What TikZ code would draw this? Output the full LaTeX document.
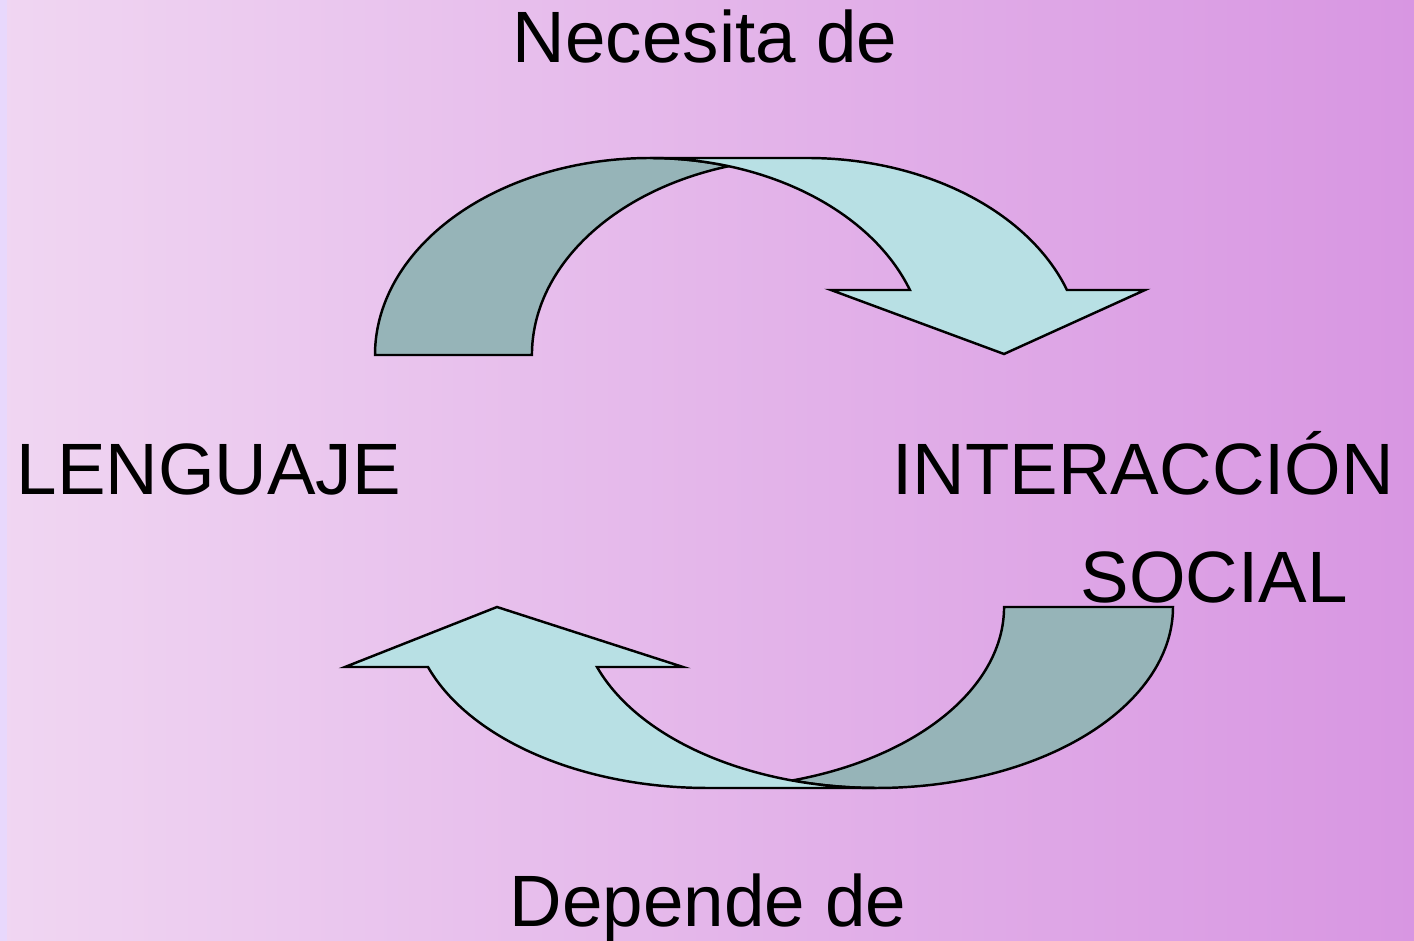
\documentclass[tikz,border=0pt]{standalone}
\usepackage{fontspec}
\setmainfont{Liberation Sans}
\usepackage{tikz}

\definecolor{bgleft}{RGB}{240,214,242}
\definecolor{bgright}{RGB}{216,150,226}
\definecolor{bgstrip}{RGB}{232,216,252}
\definecolor{arrowback}{RGB}{150,180,184}
\definecolor{arrowfront}{RGB}{184,224,228}

\begin{document}
\begin{tikzpicture}[
  back/.style={draw=black, line width=0.7pt, fill=arrowback},
  front/.style={draw=black, line width=0.7pt, fill=arrowfront},
  word/.style={inner sep=0pt, font=\fontsize{20.7}{25}\selectfont}]

\useasboundingbox (0,0) rectangle (14.14,9.41);
\fill [left color=bgleft, right color=bgright] (0,0) rectangle (14.14,9.41);
\fill [bgstrip] (0,0) rectangle (0.07,9.41);

% upper arrow
\draw [back] (3.75,5.86) arc [start angle=180, end angle=73.43, x radius=2.752cm, y radius=1.97cm]
  arc [start angle=106.57, end angle=180, x radius=2.752cm, y radius=1.97cm] -- cycle;
\draw [front] (6.502,7.83) -- (8.072,7.83)
  arc [start angle=90, end angle=19.27, x radius=2.752cm, y radius=1.97cm]
  -- (11.45,6.51) -- (10.04,5.87) -- (8.31,6.51) -- (9.099,6.51)
  arc [start angle=19.27, end angle=90, x radius=2.752cm, y radius=1.97cm] -- cycle;

% lower arrow
\draw [back] (11.73,3.34) arc [start angle=0, end angle=-106.56, x radius=2.964cm, y radius=1.81cm]
  arc [start angle=-73.44, end angle=0, x radius=2.964cm, y radius=1.81cm] -- cycle;
\draw [front] (8.766,1.53) -- (7.076,1.53)
  arc [start angle=-90, end angle=-160.64, x radius=2.964cm, y radius=1.81cm]
  -- (3.45,2.74) -- (4.97,3.34) -- (6.83,2.74) -- (5.970,2.74)
  arc [start angle=-160.64, end angle=-90, x radius=2.964cm, y radius=1.81cm] -- cycle;

\node [word, anchor=base] (necesita) at (7.05,8.78) {Necesita de};
\node [word, anchor=base west] (lenguaje) at (0.16,4.46) {LENGUAJE};
\node [word, anchor=base west] (interaccion) at (8.92,4.46) {INTERACCIÓN};
\node [word, anchor=base west] (social) at (10.80,3.38) {SOCIAL};
\node [word, anchor=base] (depende) at (7.08,0.14) {Depende de};
\end{tikzpicture}
\end{document}
